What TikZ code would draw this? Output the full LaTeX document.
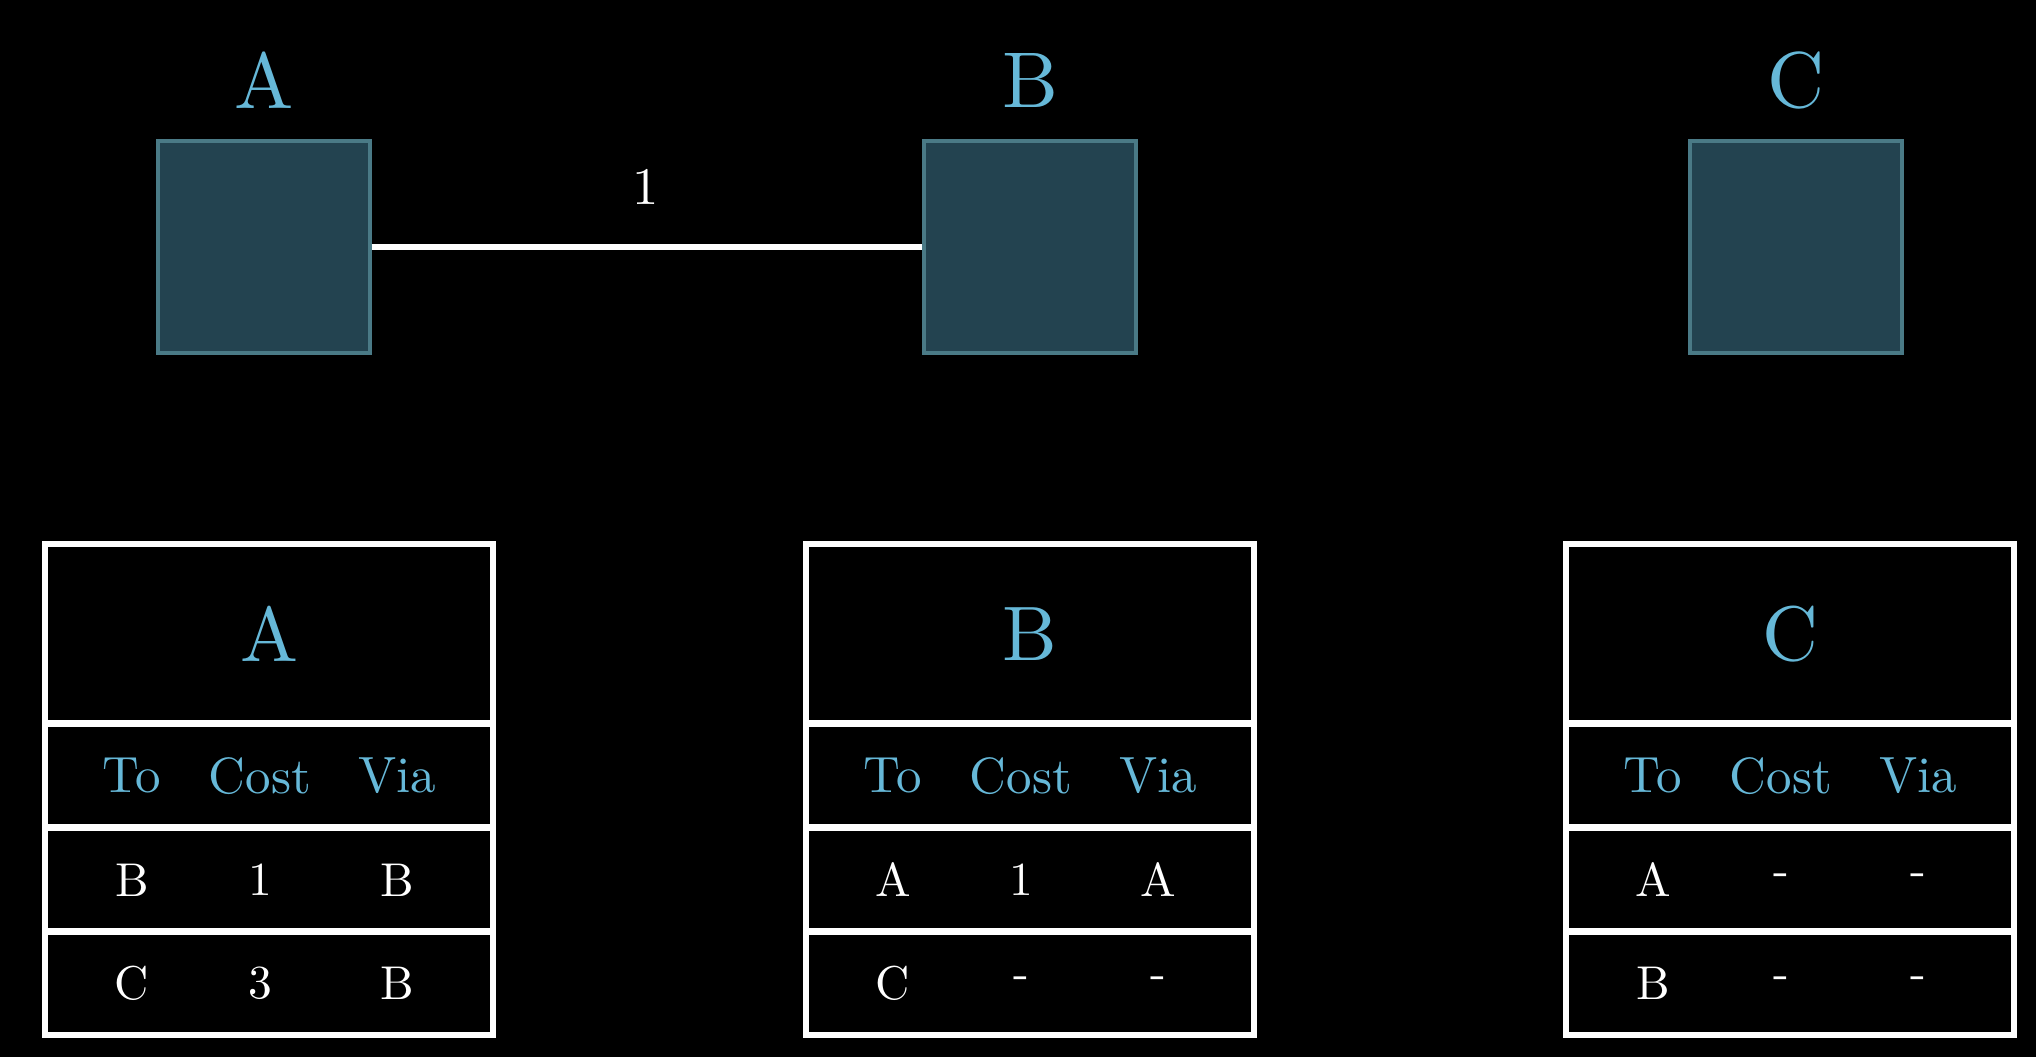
\documentclass[tikz,border=0pt]{standalone}
\usepackage{fontspec}
\setmainfont{lmroman10-regular.otf}
\definecolor{labelblue}{HTML}{66B8D8}
\definecolor{boxfill}{HTML}{234350}
\definecolor{boxline}{HTML}{4A7A86}
\tikzset{
  netbox/.style={draw=boxline, fill=boxfill, line width=1.9pt, minimum size=4.24cm, inner sep=0pt},
  toplabel/.style={text=labelblue, inner sep=0pt, font=\fontsize{45}{54}\selectfont},
  costlabel/.style={text=white, inner sep=0pt, font=\fontsize{30}{36}\selectfont},
  link/.style={draw=white, line width=2.9pt},
  tabframe/.style={draw=white, line width=2.9pt},
  tabsep/.style={draw=white, line width=4pt},
  tabtitle/.style={text=labelblue, inner sep=0pt, font=\fontsize{44}{52}\selectfont},
  tabhead/.style={text=labelblue, inner sep=0pt, font=\fontsize{29}{35}\selectfont},
  tabcell/.style={text=white, inner sep=0pt, font=\fontsize{27}{32}\selectfont}
}
\newcommand{\rtable}[9]{%
  % #1 name, #2 centre x, #3 title, #4-#6 row 1, #7-#9 row 2
  \draw[tabframe] (#2-224,544) rectangle (#2+224,1035);
  \draw[tabsep] (#2-224,723) -- (#2+224,723);
  \draw[tabsep] (#2-224,827) -- (#2+224,827);
  \draw[tabsep] (#2-224,931) -- (#2+224,931);
  \node[tabtitle] (#1title) at (#2,634) {#3};
  \node[tabhead] (#1hto) at (#2-137,776) {To};
  \node[tabhead] (#1hcost) at (#2-9,776) {Cost};
  \node[tabhead] (#1hvia) at (#2+128,776) {Via};
  \node[tabcell] (#1ato) at (#2-137,880) {#4};
  \node[tabcell] (#1acost) at (#2-9,880) {#5};
  \node[tabcell] (#1avia) at (#2+128,880) {#6};
  \node[tabcell] (#1bto) at (#2-137,983) {#7};
  \node[tabcell] (#1bcost) at (#2-9,983) {#8};
  \node[tabcell] (#1bvia) at (#2+128,983) {#9};
}
\begin{document}
\begin{tikzpicture}[x=0.02cm, y=-0.02cm]
  \useasboundingbox (0,0) rectangle (2036,1056);
  \fill[black] (-10,-10) rectangle (2046,1066);
  % routers
  \node[netbox] (boxA) at (264,247) {};
  \node[netbox] (boxB) at (1030,247) {};
  \node[netbox] (boxC) at (1796,247) {};
  \node[toplabel] (labA) at (264,80) {A};
  \node[toplabel] (labB) at (1030,80) {B};
  \node[toplabel] (labC) at (1796,80) {C};
  \draw[link] (boxA.east) -- (boxB.west);
  \node[costlabel] (costAB) at (646,187) {1};
  % tables
  \rtable{tA}{269}{A}{B}{1}{B}{C}{3}{B}
  \rtable{tB}{1030}{B}{A}{1}{A}{C}{-}{-}
  \rtable{tC}{1790}{C}{A}{-}{-}{B}{-}{-}
\end{tikzpicture}
\end{document}
